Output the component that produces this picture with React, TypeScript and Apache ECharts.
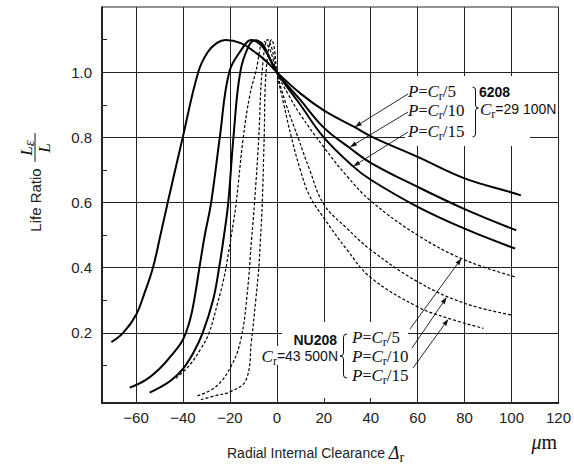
import React, { useEffect, useRef } from "react";
import * as echarts from "echarts";

// ---- axis ticks ----
const xTickLabels = [-60, -40, -20, 0, 20, 40, 60, 80, 100, 120];
const xGridValues = [-60, -40, -20, 0, 20, 40, 60, 80, 100];
const yTickLabels = [0.2, 0.4, 0.6, 0.8, 1.0];
const yGridValues = [0.2, 0.4, 0.6, 0.8, 1.0];
const yMinorTicks = [0.1, 0.3, 0.5, 0.7, 0.9, 1.1];

// ---- 6208 (solid) ----
const b6208_5_x = [-70.5, -65.5, -60, -56.5, -52.8, -49.6, -46.5, -40.1, -33.5, -29.5, -25.5, -21.8, -15.4, -8.3, -4, 0, 10, 20, 33, 41, 60, 80, 100, 104];
const b6208_5_y = [0.172, 0.2, 0.255, 0.32, 0.4, 0.5, 0.6, 0.8, 1.0, 1.061, 1.09, 1.099, 1.089, 1.056, 1.03, 1.0, 0.935, 0.883, 0.832, 0.8, 0.74, 0.674, 0.631, 0.622];
const b6208_10_x = [-62.7, -56, -50, -45, -40, -37, -35, -33, -30.7, -28, -24.3, -20.3, -15, -11, -7, -4, 0, 10, 20, 31, 40, 60, 80, 102];
const b6208_10_y = [0.032, 0.055, 0.09, 0.13, 0.18, 0.24, 0.31, 0.4, 0.5, 0.6, 0.8, 1.0, 1.07, 1.099, 1.085, 1.055, 1.0, 0.915, 0.83, 0.768, 0.722, 0.648, 0.58, 0.515];
const b6208_15_x = [-54.2, -50, -45, -40, -35.5, -31.6, -27.2, -24.6, -22.5, -20.7, -18.5, -15.6, -12, -9, -6, -4, 0, 10, 20, 32.5, 40, 60, 80, 101.5];
const b6208_15_y = [0.017, 0.032, 0.055, 0.09, 0.14, 0.2, 0.3, 0.4, 0.5, 0.6, 0.8, 1.0, 1.08, 1.098, 1.085, 1.058, 1.0, 0.9, 0.8, 0.711, 0.67, 0.587, 0.52, 0.459];

// ---- NU208 (dashed) ----
const nu208_5_x = [-43, -37.3, -32.5, -28.9, -25.3, -22.5, -20.5, -18.5, -17.3, -14.3, -11.5, -9, -5.6, -3, 0, 5, 10, 20, 30, 40, 60, 80, 101.5];
const nu208_5_y = [0.061, 0.1, 0.15, 0.2, 0.29, 0.37, 0.45, 0.54, 0.6, 0.8, 0.93, 1.0, 1.095, 1.07, 1.0, 0.93, 0.87, 0.77, 0.68, 0.605, 0.5, 0.424, 0.372];
const nu208_10_x = [-33.8, -26, -19.7, -15.4, -12.5, -10.8, -9.5, -7.7, -6.3, -3.9, -2, 0, 4, 9, 14, 20, 30, 40, 60, 80, 100];
const nu208_10_y = [0.007, 0.035, 0.095, 0.178, 0.33, 0.485, 0.6, 0.8, 1.0, 1.1, 1.07, 1.0, 0.9, 0.8, 0.7, 0.595, 0.52, 0.455, 0.357, 0.291, 0.255];
const nu208_15_x = [-32.4, -26, -19.7, -13.1, -10.8, -9, -7.7, -7, -6.2, -5.4, -4.6, -2.2, -1, 0, 3, 6.2, 10, 14, 20, 30, 40, 60, 73, 88];
const nu208_15_y = [-0.005, 0.008, 0.02, 0.056, 0.178, 0.3, 0.4, 0.485, 0.6, 0.8, 1.0, 1.1, 1.07, 1.0, 0.9, 0.8, 0.7, 0.62, 0.553, 0.454, 0.37, 0.28, 0.245, 0.214];

// arrow tips on the curves (data coords)
const tips6208 = [[33.2, 0.832], [31.1, 0.77], [32.5, 0.711]];
const tipsNU208 = [[78.7, 0.429], [72.4, 0.31], [73.1, 0.243]];

const SANS = "'Liberation Sans', Arial, Helvetica, sans-serif";
const SERIF = "'Liberation Serif', 'Times New Roman', serif";
const INK = "#111";

echarts.graphic.registerShape(
  "rbrace",
  echarts.graphic.extendPath(
    "M472.5,87 Q475.5,87 475.5,90 L475.5,105 Q475.5,108 478.5,108 Q475.5,108 475.5,111 L475.5,134 Q475.5,137 472.5,137",
    {}
  )
);
echarts.graphic.registerShape(
  "lbrace",
  echarts.graphic.extendPath(
    "M347,334 Q343.5,334 343.5,337 L343.5,353 Q343.5,356 340,356 Q343.5,356 343.5,359 L343.5,375 Q343.5,378 347,378",
    {}
  )
);

const mathRich = {
  i: { fontFamily: SERIF, fontStyle: "italic", fontSize: 17, fill: INK },
  e: { fontFamily: SERIF, fontSize: 16, fill: INK },
  sub: { fontFamily: SERIF, fontSize: 12, fill: INK, padding: [9, 0, 0, 0] },
  n: { fontFamily: SERIF, fontSize: 17, fill: INK },
  s: { fontFamily: SANS, fontSize: 14, fill: INK },
};

function pLabel(x: number, y: number, denom: string) {
  return {
    type: "text",
    x,
    y,
    z: 100,
    style: {
      text: `{i|P}{e|=}{i|C}{sub|r}{n|/${denom}}`,
      align: "left",
      verticalAlign: "middle",
      fill: INK,
      rich: mathRich,
    },
  };
}

function arrow(x1: number, y1: number, x2: number, y2: number) {
  const dx = x2 - x1;
  const dy = y2 - y1;
  const L = Math.hypot(dx, dy);
  const ux = dx / L;
  const uy = dy / L;
  const hl = 7;
  const hw = 2.3;
  const bx = x2 - ux * hl;
  const by = y2 - uy * hl;
  return [
    { type: "line", z: 101, shape: { x1, y1, x2: bx, y2: by }, style: { stroke: INK, lineWidth: 0.9 } },
    {
      type: "polygon",
      z: 101,
      shape: { points: [[x2, y2], [bx - uy * hw, by + ux * hw], [bx + uy * hw, by - ux * hw]] },
      style: { fill: INK },
    },
  ];
}

function toPairs(xs: number[], ys: number[]) {
  return xs.map((v, i) => [v, ys[i]]);
}

const curveDefs = [
  { name: "6208 P=Cr/5", x: b6208_5_x, y: b6208_5_y, dashed: false },
  { name: "6208 P=Cr/10", x: b6208_10_x, y: b6208_10_y, dashed: false },
  { name: "6208 P=Cr/15", x: b6208_15_x, y: b6208_15_y, dashed: false },
  { name: "NU208 P=Cr/5", x: nu208_5_x, y: nu208_5_y, dashed: true },
  { name: "NU208 P=Cr/10", x: nu208_10_x, y: nu208_10_y, dashed: true },
  { name: "NU208 P=Cr/15", x: nu208_15_x, y: nu208_15_y, dashed: true },
];

export default function App() {
  const ref = useRef<HTMLDivElement>(null);
  useEffect(() => {
    const chart = echarts.init(ref.current!, null, { renderer: "svg" });
    const option: any = {
      animation: false,
      backgroundColor: "#fff",
      grid: {
        left: 102,
        right: 14,
        top: 7,
        bottom: 61,
        show: true,
        borderColor: "#222",
        borderWidth: 1,
        containLabel: false,
      },
      xAxis: {
        type: "value",
        min: -74.5,
        max: 120,
        axisLine: { show: true, onZero: false, lineStyle: { color: "#000", width: 1.5 } },
        axisTick: { show: false },
        splitLine: { show: false },
        axisLabel: {
          customValues: xTickLabels,
          formatter: (v: number) => (v < 0 ? "\u2212" + Math.abs(v) : String(v)),
          color: "#222",
          fontFamily: SANS,
          fontSize: 15,
          margin: 7,
        },
      },
      yAxis: {
        type: "value",
        min: -0.015,
        max: 1.2,
        axisLine: { show: true, onZero: false, lineStyle: { color: "#000", width: 1.5 } },
        axisTick: {
          show: true,
          customValues: yMinorTicks,
          inside: true,
          length: 5,
          lineStyle: { color: "#222", width: 1 },
        },
        splitLine: { show: false },
        axisLabel: {
          customValues: yTickLabels,
          formatter: (v: number) => v.toFixed(1),
          color: "#222",
          fontFamily: SANS,
          fontSize: 15,
          margin: 10,
        },
      },
      series: [
        {
          type: "line",
          name: "grid",
          data: [],
          z: 1,
          silent: true,
          markLine: {
            silent: true,
            z: 1,
            symbol: ["none", "none"],
            label: { show: false },
            lineStyle: { color: "#222", width: 1, type: "solid" },
            data: [
              ...xGridValues.map((v) => ({ xAxis: v })),
              ...yGridValues.map((v) => ({ yAxis: v })),
            ],
          },
        },
        ...curveDefs.map((c) => ({
          type: "line",
          name: c.name,
          data: toPairs(c.x, c.y),
          showSymbol: false,
          smooth: 0.4,
          z: 3,
          silent: true,
          lineStyle: {
            color: "#000",
            width: c.dashed ? 1.2 : 2,
            type: c.dashed ? [3, 2] : "solid",
          },
        })),
      ],
    };
    chart.setOption(option);

    const P = (d: number[]) => chart.convertToPixel({ gridIndex: 0 }, d) as number[];
    const t6 = tips6208.map(P);
    const tN = tipsNU208.map(P);

    const graphic: any[] = [
      // white label backgrounds
      { type: "rect", z: 99, shape: { x: 405, y: 76, width: 125, height: 70 }, style: { fill: "#fff" } },
      { type: "rect", z: 99, shape: { x: 478, y: 100, width: 80, height: 18 }, style: { fill: "#fff" } },
      { type: "rect", z: 99, shape: { x: 282, y: 322, width: 126, height: 76 }, style: { fill: "#fff" } },
      { type: "rect", z: 99, shape: { x: 261, y: 346, width: 24, height: 19 }, style: { fill: "#fff" } },

      // 6208 block
      pLabel(408, 91, "5"),
      pLabel(408, 110, "10"),
      pLabel(408, 131, "15"),
      { type: "rbrace", z: 100, style: { stroke: INK, fill: null, lineWidth: 1 } },
      {
        type: "text",
        x: 479,
        y: 92,
        z: 100,
        style: { text: "6208", fontFamily: SANS, fontWeight: "bold", fontSize: 14, fill: INK, verticalAlign: "middle" },
      },
      {
        type: "text",
        x: 480,
        y: 109,
        z: 100,
        style: { text: "{i|C}{sub|r}{s|=29 100N}", rich: mathRich, fill: INK, verticalAlign: "middle" },
      },
      ...arrow(408, 94, t6[0][0], t6[0][1]),
      ...arrow(408, 112, t6[1][0], t6[1][1]),
      ...arrow(408, 132, t6[2][0], t6[2][1]),

      // NU208 block
      {
        type: "text",
        x: 337,
        y: 340,
        z: 100,
        style: { text: "NU208", fontFamily: SANS, fontWeight: "bold", fontSize: 14, fill: INK, align: "right", verticalAlign: "middle" },
      },
      {
        type: "text",
        x: 338,
        y: 356,
        z: 100,
        style: { text: "{i|C}{sub|r}{s|=43 500N}", rich: mathRich, fill: INK, align: "right", verticalAlign: "middle" },
      },
      { type: "lbrace", z: 100, style: { stroke: INK, fill: null, lineWidth: 1 } },
      pLabel(352, 337, "5"),
      pLabel(352, 356, "10"),
      pLabel(352, 375, "15"),
      ...arrow(410, 329, tN[0][0], tN[0][1]),
      ...arrow(412, 348, tN[1][0], tN[1][1]),
      ...arrow(413, 368, tN[2][0], tN[2][1]),

      // y-axis title (rotated)
      {
        type: "group",
        x: 35,
        y: 200,
        rotation: Math.PI / 2,
        z: 100,
        children: [
          {
            type: "text",
            x: 0,
            y: 0,
            z: 100,
            style: { text: "Life Ratio", fontFamily: SANS, fontSize: 15, fill: "#222", align: "center", verticalAlign: "middle" },
          },
          {
            type: "text",
            x: 52,
            y: -9,
            z: 100,
            style: {
              text: "{L|L}{e|\u03b5}",
              align: "center",
              verticalAlign: "middle",
              fill: INK,
              rich: {
                L: { fontFamily: SERIF, fontStyle: "italic", fontSize: 17, fill: INK },
                e: { fontFamily: SERIF, fontStyle: "italic", fontSize: 15, fill: INK, padding: [5, 0, 0, 0] },
              },
            },
          },
          {
            type: "line",
            z: 100,
            shape: { x1: 38, y1: 0, x2: 67, y2: 0 },
            style: { stroke: INK, lineWidth: 1 },
          },
          {
            type: "text",
            x: 52,
            y: 9,
            z: 100,
            style: {
              text: "L",
              fontFamily: SERIF,
              fontStyle: "italic",
              fontSize: 17,
              fill: INK,
              align: "center",
              verticalAlign: "middle",
            },
          },
        ],
      },

      // x-axis title
      {
        type: "text",
        x: 227,
        y: 453,
        z: 100,
        style: {
          text: "{t|Radial Internal Clearance }{d|\u0394}{sub|r}",
          verticalAlign: "middle",
          fill: "#222",
          rich: {
            t: { fontFamily: SANS, fontSize: 14, fill: "#222" },
            d: { fontFamily: SERIF, fontStyle: "italic", fontSize: 18, fill: INK },
            sub: { fontFamily: SERIF, fontSize: 14, fill: INK, padding: [8, 0, 0, 0] },
          },
        },
      },
      {
        type: "text",
        x: 557,
        y: 442,
        z: 100,
        style: {
          text: "{u|\u03bc}{m|m}",
          align: "right",
          verticalAlign: "middle",
          fill: INK,
          rich: {
            u: { fontFamily: SERIF, fontStyle: "italic", fontSize: 20, fill: INK },
            m: { fontFamily: SERIF, fontSize: 20, fill: INK },
          },
        },
      },
    ];
    chart.setOption({ graphic });

    return () => chart.dispose();
  }, []);
  return <div ref={ref} style={{ position: "fixed", left: 0, top: 0, width: 574, height: 464 }} />;
}
